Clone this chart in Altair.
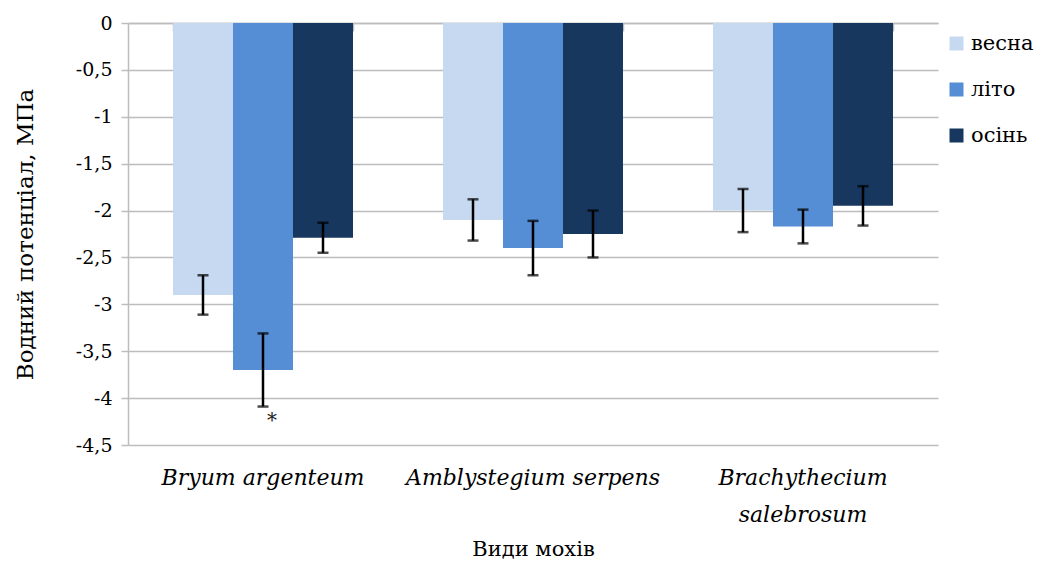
import altair as alt
import pandas as pd

seasons = ["весна", "літо", "осінь"]
species = ["Bryum argenteum", "Amblystegium serpens", "Brachythecium\nsalebrosum"]
colors = ["#C6D9F1", "#558ED5", "#17375E"]

vesna = [-2.9, -2.1, -2.0]
lito = [-3.7, -2.4, -2.17]
osin = [-2.29, -2.25, -1.95]

err_vesna = [0.21, 0.22, 0.23]
err_lito = [0.39, 0.29, 0.18]
err_osin = [0.16, 0.25, 0.21]

notes_vesna = ["", "", ""]
notes_lito = ["*", "", ""]
notes_osin = ["", "", ""]

y_ticks = [0, -0.5, -1, -1.5, -2, -2.5, -3, -3.5, -4, -4.5]

rows = []
for season, vals, errs, notes in [
    (seasons[0], vesna, err_vesna, notes_vesna),
    (seasons[1], lito, err_lito, notes_lito),
    (seasons[2], osin, err_osin, notes_osin),
]:
    for sp, v, e, n in zip(species, vals, errs, notes):
        rows.append({"species": sp, "season": season, "value": v,
                     "lo": v - e, "hi": v + e, "note": n})
df = pd.DataFrame(rows)

W, H = 810, 422
FONT = "DejaVu Serif"
GRID = "#BDBDBD"

xscale = alt.Scale(domain=species, paddingInner=1 / 3, paddingOuter=1 / 6)
yscale = alt.Scale(domain=[-4.5, 0], nice=False, zero=False)
xoff = alt.XOffset("season:N", sort=seasons, scale=alt.Scale(domain=seasons, paddingInner=0, paddingOuter=0))

label_axis = alt.Axis(
    orient="bottom", domain=False, ticks=False, grid=False,
    labelAngle=0, labelFont=FONT, labelFontSize=22, labelFontStyle="italic",
    labelColor="black", labelPadding=22, labelLineHeight=37, labelBaseline="top",
    labelLimit=400,
    labelExpr="split(datum.label, '\\n')",
    title="Види мохів", titleFont=FONT, titleFontSize=21, titleFontWeight="normal",
    titleColor="black", titlePadding=13,
)
top_axis = alt.Axis(
    orient="bottom", offset=-H, labels=False, title=None, grid=False,
    tickBand="extent", tickSize=8, tickColor=GRID, tickWidth=1.5,
    domainColor=GRID, domainWidth=1.5,
)
y_axis = alt.Axis(
    values=y_ticks, labelExpr="replace(toString(datum.value), '.', ',')",
    grid=True, gridColor=GRID, gridWidth=1.5,
    domainColor=GRID, domainWidth=1.5, tickColor=GRID, tickWidth=1.5, tickSize=7,
    labelFont=FONT, labelFontSize=19, labelColor="black", labelPadding=9,
    title="Водний потенціал, МПа", titleFont=FONT, titleFontSize=23,
    titleFontWeight="normal", titleColor="black", titlePadding=38,
)

base = alt.Chart(df)

bars = base.mark_bar().encode(
    x=alt.X("species:N", sort=species, scale=xscale, axis=label_axis),
    xOffset=xoff,
    y=alt.Y("value:Q", scale=yscale, axis=y_axis),
    color=alt.Color(
        "season:N", sort=seasons, scale=alt.Scale(domain=seasons, range=colors),
        legend=alt.Legend(
            title=None, orient="none", legendX=818, legendY=10,
            labelFont=FONT, labelFontSize=21, labelColor="black",
            symbolType="square", symbolSize=196, symbolStrokeWidth=0,
            rowPadding=24, labelOffset=4, labelLimit=200,
        ),
    ),
)

rules = base.mark_rule(color="black", strokeWidth=2.5).encode(
    x=alt.X("species:N", sort=species, scale=xscale, axis=top_axis),
    xOffset=xoff,
    y=alt.Y("lo:Q", scale=yscale),
    y2="hi:Q",
)

caps_lo = base.mark_tick(color="black", thickness=2.5, size=11, orient="horizontal").encode(
    x=alt.X("species:N", sort=species, scale=xscale, axis=None),
    xOffset=xoff,
    y=alt.Y("lo:Q", scale=yscale),
)
caps_hi = base.mark_tick(color="black", thickness=2.5, size=11, orient="horizontal").encode(
    x=alt.X("species:N", sort=species, scale=xscale, axis=None),
    xOffset=xoff,
    y=alt.Y("hi:Q", scale=yscale),
)

star = base.transform_filter(alt.datum.note != "").mark_text(
    font=FONT, fontSize=20, dx=9, dy=14
).encode(
    x=alt.X("species:N", sort=species, scale=xscale, axis=None),
    xOffset=xoff,
    y=alt.Y("lo:Q", scale=yscale),
    text="note:N",
    color=alt.value("#222222"),
)

chart = alt.layer(bars, rules, caps_lo, caps_hi, star).resolve_axis(
    x="independent"
).properties(
    width=W, height=H,
    autosize=alt.AutoSizeParams(type="none"),
    padding={"left": 128, "top": 23, "right": 101, "bottom": 121},
    background="white",
).configure_view(stroke=None)

chart.save("out.html", embed_options={"renderer": "svg", "actions": False})
